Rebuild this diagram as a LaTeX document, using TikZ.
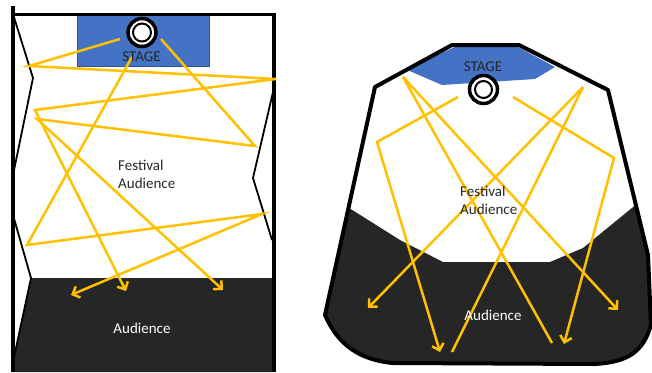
\documentclass[tikz,border=0pt]{standalone}
\usepackage{fontspec}
\setmainfont{Carlito}
\usetikzlibrary{arrows.meta}

\definecolor{stageblue}{HTML}{4472C4}
\definecolor{stageedge}{HTML}{2F528F}
\definecolor{crowd}{HTML}{262626}
\definecolor{sound}{HTML}{FFC000}

\tikzset{
  wall/.style={line width=3.5pt},
  thinwall/.style={line width=1.8pt},
  ray/.style={draw=sound, line width=2.5pt},
  raytip/.style={ray, -{Straight Barb[length=6pt,width=12pt]}},
  speaker/.style={circle, draw, fill=white, line width=3.5pt, minimum size=28pt, inner sep=0pt},
  txt/.style={font=\fontsize{15}{18}\selectfont, inner sep=0pt, text=crowd},
}

\begin{document}
\begin{tikzpicture}[x=1pt,y=-1pt]

                \useasboundingbox (0,0) rectangle (652,372);

                % ---------- Left venue ----------

                % Audience area
                \fill[crowd] (31,278) -- (274,278) -- (274,372) -- (13,372) -- (13,362) -- cycle;

                % Stage
                \filldraw[fill=stageblue, draw=stageedge, line width=0.5pt] (77,15) rectangle (209,66);

                % Walls
                \draw[wall] (13,6) -- (13,372);
                \draw[wall] (274,14) -- (274,372);
                \draw[line width=3pt] (13,14) -- (276,14);
                \draw[thinwall] (13,14) -- (33,78) -- (13,175);
                \draw[thinwall] (13,215) -- (31,278) -- (13,362);
                \draw[thinwall] (273,92) -- (253,178) -- (272,240);

                % Reflection points
                \coordinate (a0) at (120,39);
                \coordinate (a1) at (29,66);
                \coordinate (a2) at (276,79);
                \coordinate (a3) at (35,110);
                \coordinate (a4) at (126,291);
                \coordinate (b0) at (161,39);
                \coordinate (b1) at (255,146);
                \coordinate (b2) at (37,119);
                \coordinate (b3) at (223,290);
                \coordinate (c0) at (132,57);
                \coordinate (c1) at (27,245);
                \coordinate (c2) at (262,214);
                \coordinate (c3) at (71,295);

                % Sound paths
                \draw[raytip] (a0) -- (a1) -- (a2) -- (a3) -- (a4);
                \draw[raytip] (b0) -- (b1) -- (b2) -- (b3);
                \draw[raytip] (c0) -- (c1) -- (c2) -- (c3);

                % Speaker
                \node[speaker] (spkL) at (142,32.5) {};
                \draw[line width=2pt] (spkL.center) circle[radius=9pt];

                % Labels
                \node[txt, anchor=base] (stageL) at (141.5,61) {STAGE};
                \node[txt, anchor=west, align=left] (festL) at (118,174) {Festival\\Audience};
                \node[txt, anchor=base, text=white] (audL) at (142,333) {Audience};

                % ---------- Right venue ----------

                \def\hall{(452,45) -- (519,45) -- (608,90) -- (648,255) -- (651,325)
                    .. controls (643,352) and (628,362) .. (595,364) -- (393,363)
                    .. controls (360,360) and (338,345) .. (325,315) -- (375,87) -- cycle}

                \begin{scope}
                    \clip \hall;
                    \fill[crowd] (330,196) -- (400,240) -- (443,262) -- (550,262) -- (583,248)
                        -- (660,185) -- (670,390) -- (300,390) -- (300,196) -- cycle;
                    \fill[stageblue] (405,69) -- (455,47) -- (518,47) -- (555,67) -- (535,79) -- (442,85) -- cycle;
                \end{scope}
                \draw[line width=4pt, line join=round] \hall;

                % Reflection points
                \coordinate (d0) at (458,97);
                \coordinate (d1) at (377,142);
                \coordinate (d2) at (440,352);
                \coordinate (e0) at (513,97);
                \coordinate (e1) at (614,158);
                \coordinate (e2) at (564,344);
                \coordinate (f0) at (583,87);
                \coordinate (f1) at (368,308);
                \coordinate (f2) at (452,352);
                \coordinate (g0) at (403,77);
                \coordinate (g1) at (618,310);
                \coordinate (g2) at (552,343);

                % Sound paths
                \draw[raytip] (d0) -- (d1) -- (d2);
                \draw[raytip] (e0) -- (e1) -- (e2);
                \draw[raytip] (f0) -- (f1);
                \draw[ray] (f0) -- (f2);
                \draw[raytip] (g0) -- (g1);
                \draw[ray] (g0) -- (g2);

                % Speaker
                \node[speaker] (spkR) at (483.5,89.5) {};
                \draw[line width=2pt] (spkR.center) circle[radius=8.5pt];

                % Labels
                \node[txt, anchor=base] (stageR) at (483,71) {STAGE};
                \node[txt, anchor=west, align=left] (festR) at (460,200.5) {Festival\\Audience};
                \node[txt, anchor=base, text=white] (audR) at (493,320) {Audience};

            \end{tikzpicture}
\end{document}
